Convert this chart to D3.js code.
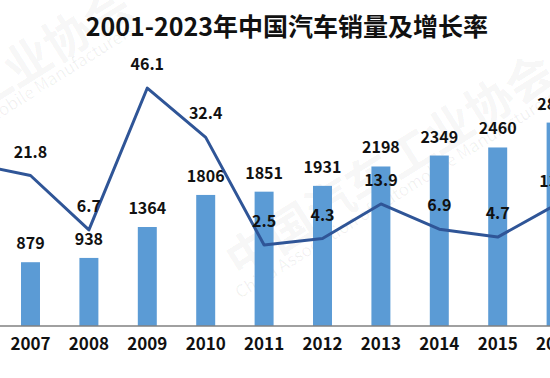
<!DOCTYPE html>
<html>
<head>
<meta charset="utf-8">
<script src="https://cdn.jsdelivr.net/npm/d3@7"></script>
<style>
html,body{margin:0;padding:0;background:#fff;}
svg{display:block;}
text{font-family:"Noto Sans CJK SC","Open Sans",sans-serif;}
</style>
</head>
<body>
<svg id="chart" width="550" height="378"></svg>
<script>
const years = ["2006","2007","2008","2009","2010","2011","2012","2013","2014","2015","2016"];
const sales = [722, 879, 938, 1364, 1806, 1851, 1931, 2198, 2349, 2460, 2803];
const growth = [25.1, 21.8, 6.7, 46.1, 32.4, 2.5, 4.3, 13.9, 6.9, 4.7, 13.7];
const salesLabels = ["722","879","938","1364","1806","1851","1931","2198","2349","2460","2803"];
const growthLabels = ["25.1","21.8","6.7","46.1","32.4","2.5","4.3","13.9","6.9","4.7","13.7"];
const title = "2001-2023年中国汽车销量及增长率";
const watermarkCN = "中国汽车工业协会";
const watermarkEN = "China Association of Automobile Manufacturers";

const W = 550, H = 378;
const svg = d3.select("#chart");

// faint watermark (two copies, as in the reference)
const wm = svg.append("g").attr("fill", "#000");
[[0, 0], [-422, -67]].forEach(([dx, dy]) => {
  wm.append("text")
    .attr("transform", `translate(${388 + dx},${163 + dy}) rotate(-32)`)
    .attr("text-anchor", "middle").attr("dominant-baseline", "central")
    .attr("font-size", 47).attr("font-weight", "bold").attr("fill-opacity", 0.05)
    .text(watermarkCN);
  wm.append("text")
    .attr("transform", `translate(${240 + dx},${299 + dy}) rotate(-32)`)
    .attr("font-size", 17).attr("fill-opacity", 0.06)
    .text(watermarkEN);
});

const x = d3.scaleBand().domain(years).range([-57.1, 585.3]).paddingInner(0.675).paddingOuter(0.3375);
const yBar = d3.scaleLinear().domain([0, 3500]).range([326, 72]);
const yLine = d3.scaleLinear().domain([-20, 50]).range([326, 74]);

const data = years.map((y, i) => ({year: y, sales: sales[i], growth: growth[i], sl: salesLabels[i], gl: growthLabels[i]}));

// bars
svg.append("g").selectAll("rect").data(data).join("rect")
  .attr("x", d => x(d.year))
  .attr("y", d => yBar(d.sales))
  .attr("width", x.bandwidth())
  .attr("height", d => yBar(0) - yBar(d.sales))
  .attr("fill", "#5b9bd5");

// axis
const xAxis = d3.axisBottom(x).tickSize(0).tickPadding(12);
const ax = svg.append("g").attr("transform", `translate(0,${yBar(0)})`).call(xAxis);
ax.select(".domain").attr("stroke", "#808080").attr("stroke-width", 1.5).attr("d", `M0,0H${W}`);
ax.selectAll("text").attr("font-size", 17).attr("font-weight", "bold").attr("fill", "#111")
  .attr("font-family", "'Noto Sans CJK SC','Open Sans',sans-serif");

// bar labels
svg.append("g").selectAll("text").data(data).join("text")
  .attr("x", d => x(d.year) + x.bandwidth() / 2)
  .attr("y", d => yBar(d.sales) - 13)
  .attr("text-anchor", "middle")
  .attr("font-size", 16).attr("font-weight", "bold").attr("fill", "#111")
  .text(d => d.sl);

// line
const line = d3.line().x(d => x(d.year) + x.bandwidth() / 2).y(d => yLine(d.growth));
svg.append("path").datum(data).attr("d", line)
  .attr("fill", "none").attr("stroke", "#2f5597").attr("stroke-width", 3)
  .attr("stroke-linejoin", "round");

// line labels
svg.append("g").selectAll("text").data(data).join("text")
  .attr("x", d => x(d.year) + x.bandwidth() / 2)
  .attr("y", d => yLine(d.growth) - 18)
  .attr("text-anchor", "middle")
  .attr("font-size", 16).attr("font-weight", "bold").attr("fill", "#111")
  .text(d => d.gl);

// title
svg.append("text").attr("x", 287).attr("y", 36).attr("text-anchor", "middle")
  .attr("font-size", 25).attr("font-weight", "bold").attr("fill", "#111")
  .text(title);
</script>
</body>
</html>
